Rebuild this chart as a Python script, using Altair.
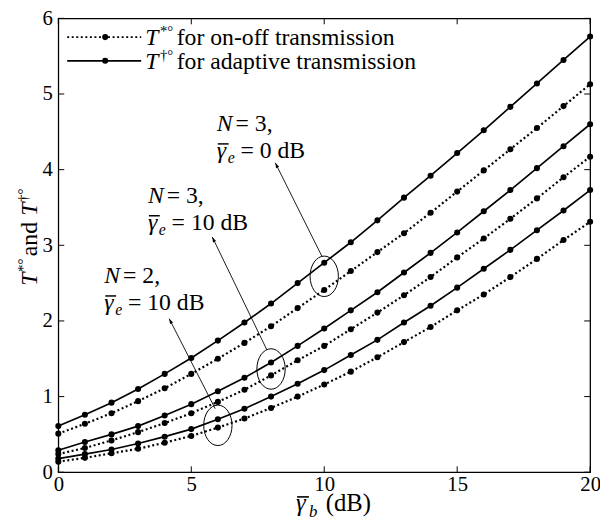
import math
import altair as alt
import pandas as pd

# ---------------- data ----------------
gamma_b = list(range(21))
adapt_N3_0dB = [0.61, 0.76, 0.92, 1.10, 1.30, 1.51, 1.74, 1.98, 2.23, 2.50, 2.77,
                3.04, 3.33, 3.63, 3.92, 4.22, 4.52, 4.83, 5.14, 5.45, 5.76]
onoff_N3_0dB = [0.51, 0.64, 0.78, 0.94, 1.11, 1.30, 1.50, 1.71, 1.93, 2.17, 2.41,
                2.66, 2.91, 3.16, 3.43, 3.71, 3.99, 4.27, 4.55, 4.84, 5.13]
adapt_N3_10dB = [0.29, 0.40, 0.50, 0.61, 0.75, 0.90, 1.07, 1.25, 1.45, 1.67, 1.90,
                 2.14, 2.38, 2.64, 2.90, 3.17, 3.45, 3.73, 4.02, 4.31, 4.60]
onoff_N3_10dB = [0.24, 0.32, 0.42, 0.53, 0.65, 0.78, 0.93, 1.09, 1.28, 1.48, 1.67,
                 1.89, 2.11, 2.34, 2.58, 2.84, 3.09, 3.35, 3.62, 3.90, 4.17]
adapt_N2_10dB = [0.18, 0.24, 0.30, 0.38, 0.47, 0.57, 0.70, 0.84, 1.00, 1.17, 1.35,
                 1.55, 1.75, 1.98, 2.20, 2.44, 2.69, 2.94, 3.20, 3.46, 3.73]
onoff_N2_10dB = [0.14, 0.19, 0.25, 0.31, 0.39, 0.48, 0.59, 0.71, 0.85, 1.00, 1.16,
                 1.33, 1.52, 1.72, 1.92, 2.14, 2.35, 2.58, 2.82, 3.07, 3.31]

x_ticks = [0, 5, 10, 15, 20]
y_ticks = [0, 1, 2, 3, 4, 5, 6]

# ellipse centres (x, y) marking curve pairs
ell_x = [10, 8, 6]
ell_y = [2.59, 1.365, 0.62]
# arrows: start (near ellipse) -> tip (near label)
arr_x0 = [9.92, 7.84, 5.90]
arr_y0 = [2.85, 1.62, 0.84]
arr_x1 = [8.16, 5.79, 4.17]
arr_y1 = [4.09, 3.11, 2.03]
# label anchors (data coords) and texts
lab_x = [5.96, 3.37, 1.73]
lab_y = [4.51, 3.56, 2.50]
lab_n = ["= 3,", "= 3,", "= 2,"]
lab_g = ["= 0 dB", "= 10 dB", "= 10 dB"]

# ---------------- layout ----------------
W, H = 539, 460
FONT = "Liberation Serif"
XS = alt.Scale(domain=[0, 20], nice=False, zero=False)
YS = alt.Scale(domain=[0, 6], nice=False, zero=False)

rows = []
for name, vals, kind in [
    ("a30", adapt_N3_0dB, "solid"), ("o30", onoff_N3_0dB, "dot"),
    ("a310", adapt_N3_10dB, "solid"), ("o310", onoff_N3_10dB, "dot"),
    ("a210", adapt_N2_10dB, "solid"), ("o210", onoff_N2_10dB, "dot")]:
    for xv, yv in zip(gamma_b, vals):
        rows.append({"x": xv, "y": yv, "s": name, "k": kind})
df = pd.DataFrame(rows)

xenc = alt.X("x:Q", scale=XS, axis=alt.Axis(values=x_ticks, title=None, grid=False, domain=False,
                                              ticks=False, labelFontSize=21, labelFont=FONT,
                                              labelColor="black", labelPadding=2, labelFlush=False,
                                              format="d"))
yenc = alt.Y("y:Q", scale=YS, axis=alt.Axis(values=y_ticks, title=None, grid=False, domain=False,
                                              ticks=False, labelFontSize=21, labelFont=FONT,
                                              labelColor="black", labelPadding=6, format="d"))

base = alt.Chart(df).encode(x=xenc, y=yenc, detail="s:N")
solid = base.transform_filter(alt.datum.k == "solid").mark_line(color="black", strokeWidth=1.7)
dotted = base.transform_filter(alt.datum.k == "dot").mark_line(color="black", strokeWidth=2.2,
                                                              strokeDash=[2, 2.6])
pts = base.mark_point(filled=True, color="black", size=38, opacity=1)

# inward ticks on all four sides
xt = pd.DataFrame({"x": x_ticks})
yt = pd.DataFrame({"y": y_ticks})
tb = alt.Chart(xt).mark_rule(color="black", strokeWidth=1).encode(
    x=alt.X("x:Q", scale=XS), y=alt.value(H), y2=alt.value(H - 6))
tt = alt.Chart(xt).mark_rule(color="black", strokeWidth=1).encode(
    x=alt.X("x:Q", scale=XS), y=alt.value(0), y2=alt.value(6))
tl = alt.Chart(yt).mark_rule(color="black", strokeWidth=1).encode(
    y=alt.Y("y:Q", scale=YS), x=alt.value(0), x2=alt.value(6))
tr = alt.Chart(yt).mark_rule(color="black", strokeWidth=1).encode(
    y=alt.Y("y:Q", scale=YS), x=alt.value(W), x2=alt.value(W - 6))

# ellipses
ell_path = "M0,-1A0.7,1,0,1,1,0,1A0.7,1,0,1,1,0,-1Z"
ell = alt.Chart(pd.DataFrame({"x": ell_x, "y": ell_y})).mark_point(
    shape=ell_path, size=1681, filled=False, color="black", strokeWidth=1, opacity=1
).encode(x=alt.X("x:Q", scale=XS), y=alt.Y("y:Q", scale=YS))

# arrows
adf = pd.DataFrame({"x0": arr_x0, "y0": arr_y0, "x1": arr_x1, "y1": arr_y1})
adf["ang"] = [
    (math.degrees(math.atan2((a1 - a0) * W / 20, (b1 - b0) * H / 6)) + 360) % 360
    for a0, b0, a1, b1 in zip(arr_x0, arr_y0, arr_x1, arr_y1)]
arr = alt.Chart(adf).mark_rule(color="black", strokeWidth=0.9).encode(
    x=alt.X("x0:Q", scale=XS), y=alt.Y("y0:Q", scale=YS), x2="x1:Q", y2="y1:Q")
head_path = "M0,0L-0.33,1L0.33,1Z"
heads = alt.Chart(adf).mark_point(shape=head_path, size=110, filled=True, color="black",
                                  opacity=1).encode(
    x=alt.X("x1:Q", scale=XS), y=alt.Y("y1:Q", scale=YS),
    angle=alt.Angle("ang:Q", scale=None))

layers = [solid, dotted, pts, tb, tt, tl, tr, ell, arr, heads]

ANN = 24


def dtext(x, y, txt, dx, dy, size=ANN, italic=False):
    return alt.Chart(pd.DataFrame({"t": [txt]})).mark_text(
        font=FONT, fontSize=size, fontStyle="italic" if italic else "normal",
        align="left", baseline="alphabetic", color="black", dx=dx, dy=dy
    ).encode(x=alt.datum(x, scale=XS), y=alt.datum(y, scale=YS), text="t:N")


def dbar(x, y, dx0, dx1, dy):
    return alt.Chart(pd.DataFrame({"r": [0]})).mark_rule(
        color="black", strokeWidth=1.5, xOffset=dx0, x2Offset=dx1, yOffset=dy, y2Offset=dy
    ).encode(x=alt.datum(x, scale=XS), x2=alt.datum(x), y=alt.datum(y, scale=YS),
             y2=alt.datum(y))


for lx, ly, tn, tg in zip(lab_x, lab_y, lab_n, lab_g):
    layers += [
        dtext(lx, ly, "N", 0, 0, italic=True),
        dtext(lx, ly, tn, 19, 0),
        dbar(lx, ly, 1, 12, 13),
        dtext(lx, ly, "\u03b3", 0, 27, italic=True),
        dtext(lx, ly, "e", 11, 32, size=16, italic=True),
        dtext(lx, ly, tg, 24, 27),
    ]


def ptext(px, py, txt, size=24, italic=False, angle=0, dx=0, dy=0):
    kw = dict(font=FONT, fontSize=size, fontStyle="italic" if italic else "normal",
              align="left", baseline="alphabetic", color="black", dx=dx, dy=dy)
    if angle:
        kw["angle"] = angle
    return alt.Chart(pd.DataFrame({"t": [txt]})).mark_text(**kw).encode(
        x=alt.value(px), y=alt.value(py), text="t:N")


def pbar(x0, x1, y):
    return alt.Chart(pd.DataFrame({"r": [0]})).mark_rule(color="black", strokeWidth=1.6).encode(
        x=alt.value(x0), x2=alt.value(x1), y=alt.value(y))


# legend (plot-relative pixels)
leg = pd.DataFrame({"r": [0]})
for ly, dash, sup, lab in [(19, [2, 2.6], "*\u00b0", "for on-off transmission"),
                           (43, [1, 0], "\u2020\u00b0", "for adaptive transmission")]:
    lm = alt.Chart(leg).mark_rule(color="black", strokeWidth=2.0 if dash[1] else 1.7,
                                  strokeDash=dash).encode(
        x=alt.value(9), x2=alt.value(84), y=alt.value(ly))
    lp = alt.Chart(leg).mark_point(filled=True, color="black", size=38, opacity=1).encode(
        x=alt.value(47.5), y=alt.value(ly))
    layers += [lm, lp,
               ptext(88, ly + 8, "T", italic=True),
               ptext(103, ly - 1, sup, size=15),
               ptext(120, ly + 8, lab)]

# axis titles
layers += [
    ptext(241, 499, "\u03b3", size=25, italic=True),
    pbar(242, 254, 485),
    ptext(254, 505, "b", size=17, italic=True),
    ptext(271, 499, "(dB)", size=25),
]
YT_X, YT_Y = -22, 271
layers += [
    ptext(YT_X, YT_Y, "T", size=24, italic=True, angle=270),
    ptext(YT_X, YT_Y, "*\u00b0", size=15, angle=270, dx=14, dy=-9),
    ptext(YT_X, YT_Y, "and", size=24, angle=270, dx=30),
    ptext(YT_X, YT_Y, "T", size=24, italic=True, angle=270, dx=71),
    ptext(YT_X, YT_Y, "\u2020\u00b0", size=15, angle=270, dx=85, dy=-9),
]

chart = alt.layer(*layers).properties(
    width=W, height=H,
    autosize=alt.AutoSizeParams(type="none"),
    padding={"left": 51, "top": 7, "right": 10, "bottom": 52},
    background="white",
).configure_view(stroke="black", strokeWidth=1.3)

chart.save("out.html", embed_options={"renderer": "svg", "actions": False})
